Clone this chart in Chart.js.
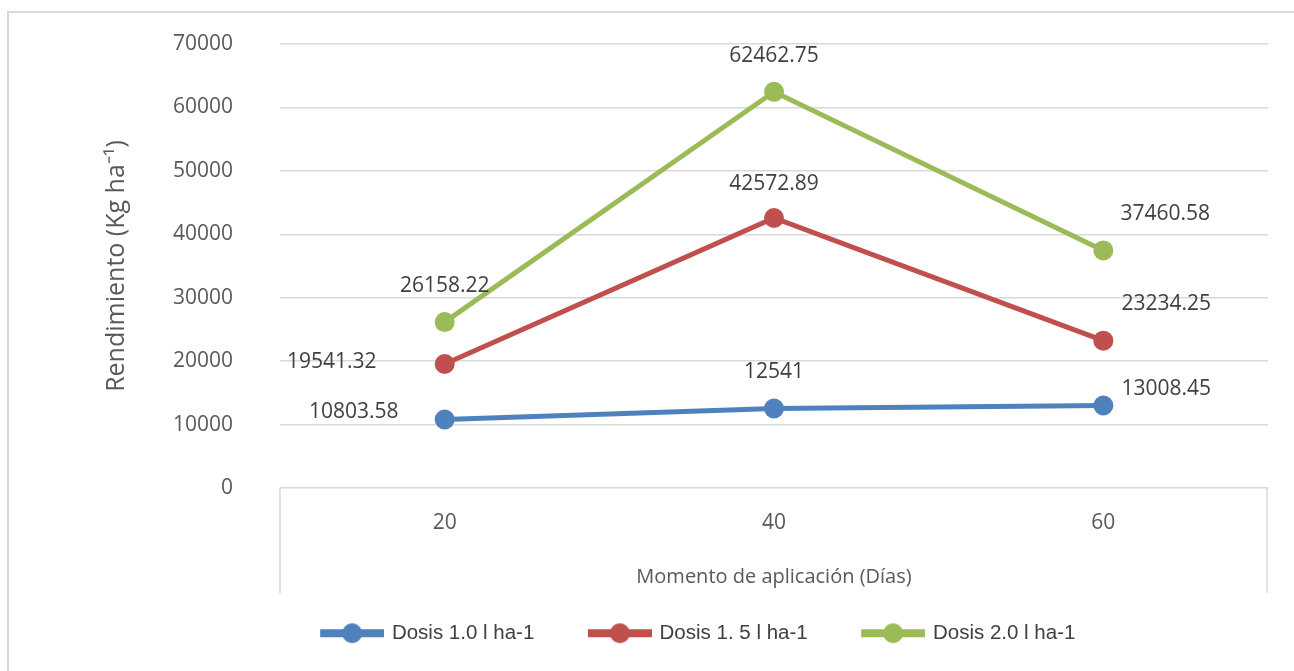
<!DOCTYPE html>
<html>
<head>
<meta charset="utf-8">
<script src="https://cdn.jsdelivr.net/npm/chart.js@4.4.1/dist/chart.umd.min.js"></script>
<style>
  html, body { margin: 0; padding: 0; background: #fff; }
  #wrap { width: 1294px; height: 671px; position: relative; }
</style>
</head>
<body>
<div id="wrap"><canvas id="grafico"></canvas></div>
<script>
// Momento de aplicación (días)
var momentos = ['20', '40', '60'];
var dosis1 = [10803.58, 12541, 13008.45];
var dosis15 = [19541.32, 42572.89, 23234.25];
var dosis2 = [26158.22, 62462.75, 37460.58];
var nombres = ['Dosis 1.0 l ha-1', 'Dosis 1. 5 l ha-1', 'Dosis 2.0 l ha-1'];
var ticksY = [0, 10000, 20000, 30000, 40000, 50000, 60000, 70000];

var colores = ['#4f81bd', '#c0504d', '#9bbb59'];

// icono de leyenda: margen transparente a la izquierda + linea gruesa con circulo
function iconoLeyenda(color) {
    var c = document.createElement('canvas');
    c.width = 90;
    c.height = 22;
    var g = c.getContext('2d');
    g.fillStyle = color;
    g.fillRect(26, 7, 64, 8);
    g.beginPath();
    g.arc(58, 11, 10, 0, Math.PI * 2);
    g.fill();
    return c;
}

function serie(i, datos, offsets) {
    return {
        label: nombres[i],
        data: datos,
        borderColor: colores[i],
        backgroundColor: colores[i],
        borderWidth: 5,
        pointRadius: 10,
        pointHoverRadius: 10,
        pointBorderWidth: 0,
        tension: 0,
        offsets: offsets
    };
}

// etiquetas de valor junto a cada punto
var etiquetas = {
    id: 'etiquetas',
    afterDatasetsDraw: function(chart) {
        var ctx = chart.ctx;
        ctx.save();
        ctx.font = '21px "Open Sans"';
        ctx.fillStyle = '#404040';
        ctx.textAlign = 'center';
        ctx.textBaseline = 'middle';
        chart.data.datasets.forEach(function(ds, i) {
            var meta = chart.getDatasetMeta(i);
            meta.data.forEach(function(pt, j) {
                var o = ds.offsets[j];
                ctx.fillText(String(ds.data[j]), pt.x + o[0], pt.y + o[1]);
            });
        });
        ctx.restore();
    }
};

// marco exterior y caja del eje de categorias
var marcos = {
    id: 'marcos',
    afterLayout: function(chart) {
        // leyenda algo desplazada a la derecha
        chart.legend.left += 48;
        chart.legend.right += 48;
    },
    beforeDraw: function(chart) {
        var ctx = chart.ctx;
        var x = chart.scales.x;
        ctx.save();
        ctx.strokeStyle = '#d9d9d9';
        ctx.lineWidth = 2;
        ctx.strokeRect(8, 12, 1320, 700);
        ctx.lineWidth = 1.5;
        ctx.beginPath();
        ctx.moveTo(x.left, x.top);
        ctx.lineTo(x.left, x.bottom);
        ctx.moveTo(x.right - 1, x.top);
        ctx.lineTo(x.right - 1, x.bottom);
        ctx.stroke();
        ctx.restore();
    }
};

var canvas = document.getElementById('grafico').getContext('2d');
window.line = new Chart(canvas, {
    type: 'line',
    data: {
        labels: momentos,
        datasets: [
            serie(0, dosis1, [[-91, -7], [0, -36], [63, -16]]),
            serie(1, dosis15, [[-113, -2], [0, -34], [63, -37]]),
            serie(2, dosis2, [[0, -36], [0, -36], [62, -36]])
        ]
    },
    options: {
        responsive: true,
        maintainAspectRatio: false,
        animation: false,
        layout: { padding: { left: 8, top: 44, right: 26, bottom: 17.5 } },
        plugins: {
            tooltip: { enabled: false },
            legend: {
                position: 'bottom',
                labels: {
                    usePointStyle: true,
                    pointStyleWidth: 85,
                    padding: 30,
                    color: '#404040',
                    font: { family: '"Liberation Sans Narrow", "Liberation Sans", sans-serif', size: 20.5 },
                    generateLabels: function(chart) {
                        return chart.data.datasets.map(function(ds, i) {
                            return {
                                text: ds.label,
                                pointStyle: iconoLeyenda(colores[i]),
                                fillStyle: colores[i],
                                strokeStyle: colores[i],
                                lineWidth: 0,
                                fontColor: '#404040',
                                datasetIndex: i
                            };
                        });
                    }
                }
            }
        },
        scales: {
            x: {
                offset: true,
                grid: { display: false, drawTicks: false },
                border: { display: false },
                ticks: { color: '#595959', padding: 22, font: { family: '"Open Sans"', size: 21 } },
                title: {
                    display: true,
                    text: 'Momento de aplicación (Días)',
                    color: '#595959',
                    padding: { top: 0, bottom: 4 },
                    font: { family: '"Open Sans"', size: 20 }
                },
                afterFit: function(scale) { scale.height = 105; }
            },
            y: {
                min: 0,
                max: 70000,
                afterBuildTicks: function(scale) {
                    scale.ticks = ticksY.map(function(v) { return { value: v }; });
                },
                // marcas invisibles para separar las etiquetas de la rejilla
                grid: { color: '#d9d9d9', lineWidth: 1.5, drawTicks: true, tickLength: 47, tickColor: 'rgba(0,0,0,0)' },
                border: { display: false },
                ticks: {
                    color: '#595959',
                    padding: 0,
                    font: { family: '"Open Sans"', size: 21 },
                    callback: function(v) { return String(v); }
                },
                title: {
                    display: true,
                    text: 'Rendimiento (Kg ha\u207B\u00B9)',
                    color: '#595959',
                    padding: { top: 94, bottom: 0 },
                    font: { family: '"Open Sans"', size: 25 }
                },
                afterFit: function(scale) { scale.width = 272; }
            }
        }
    },
    plugins: [marcos, etiquetas]
});
</script>
</body>
</html>
